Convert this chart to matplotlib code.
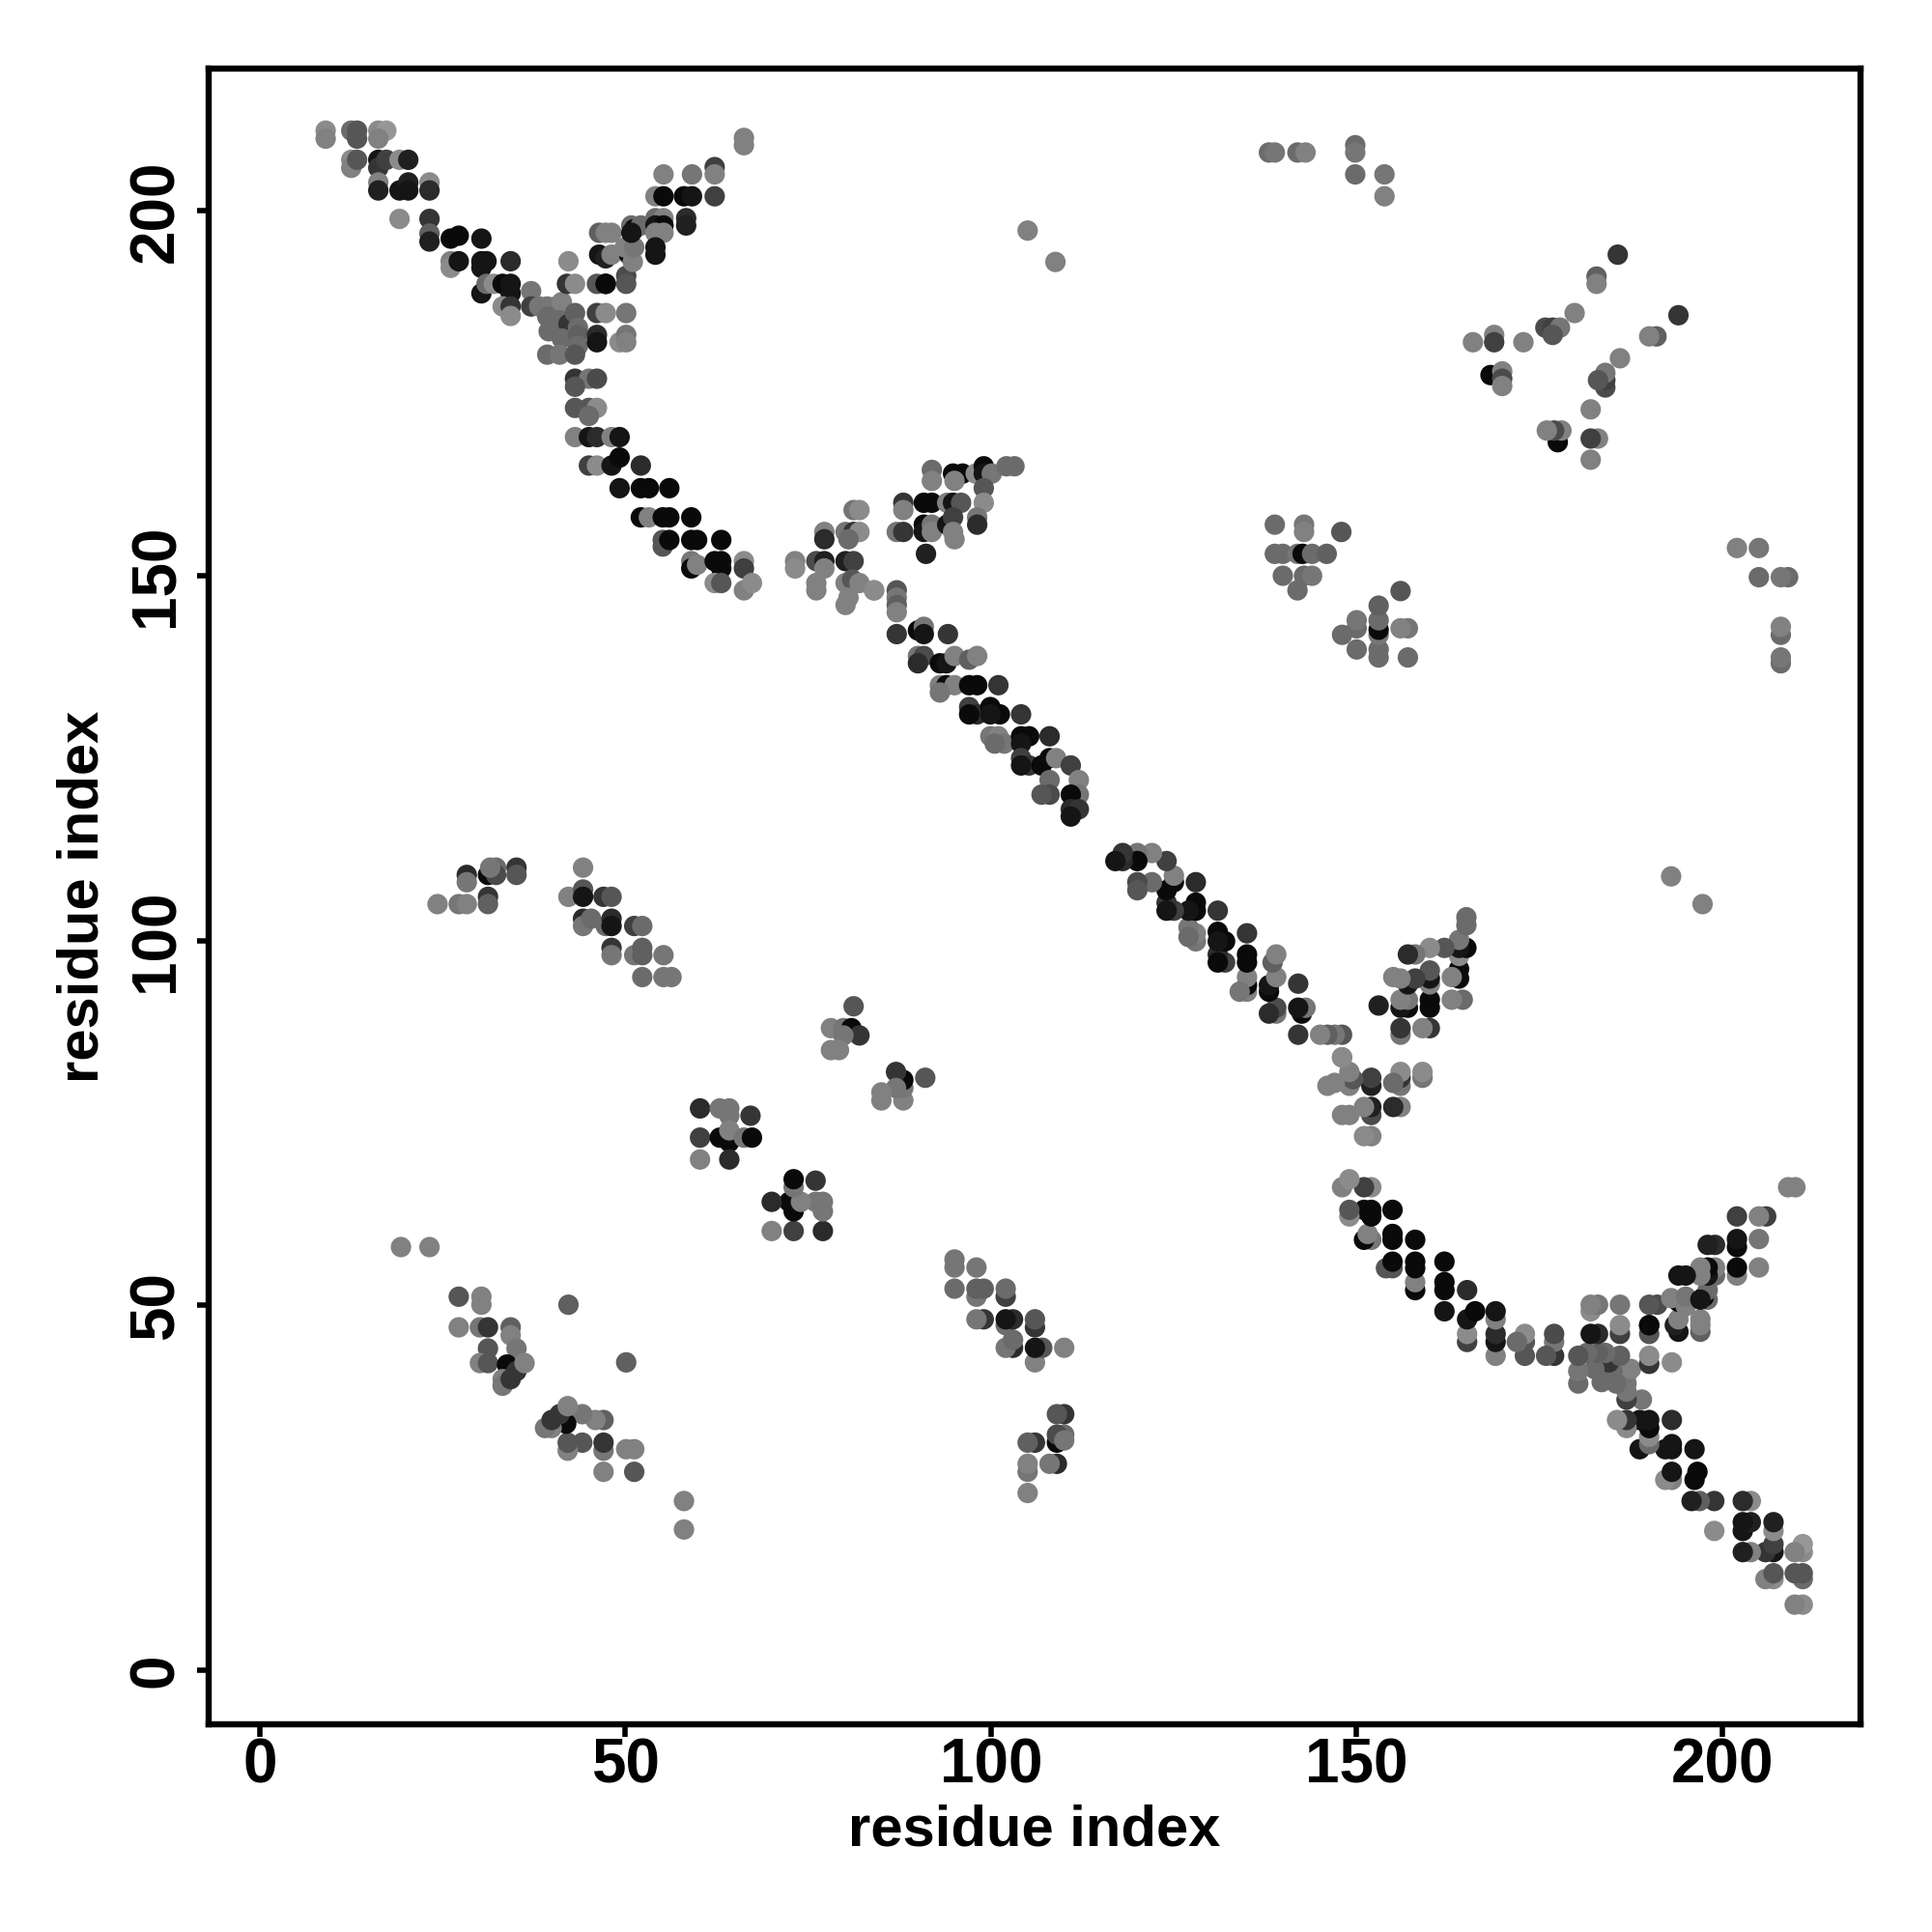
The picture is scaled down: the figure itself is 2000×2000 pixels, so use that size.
import matplotlib
matplotlib.use("Agg")
import matplotlib.pyplot as plt
import numpy as np

# contacts (i < j); the map is symmetric so (j, i) is drawn too
# score = contact strength (dark = strong)

# N-terminal / C-terminal anti-parallel band, upper half
band_i = [9, 9, 12.5, 13.3, 13.3, 16.2, 17.3, 16.2,
          12.5, 12.5, 13.3, 16.2, 16.2, 17.3, 19.1, 20.3,
          16.2, 16.2, 19.1, 20.3, 20.3, 23.2, 23.2,
          19.1, 23.2, 23.2, 23.2,
          26.1, 27.2, 30.3,
          26.1, 26.1, 27.2, 30.3, 31, 30.3, 34.3,
          30.3, 31, 32, 33.2, 34.3, 34.3,
          33.2, 34.3, 34.3, 37.1, 37.1,
          38.2, 39.3, 40.5, 41.3, 42, 43.1, 42.2,
          39.3, 41, 42.2, 43.1, 43.5, 39.5, 41.3, 43.5, 43.5, 39.3, 41, 43.1,
          43.1, 45, 46.1, 43.1,
          43.1, 45, 46.1, 45,
          43.1, 45, 46.1, 48.1, 49.2,
          45, 46.1, 48.1, 49.2, 52.1,
          49.2, 52.1, 53.2, 56,
          52.1, 53.2, 55.1, 56, 59,
          55.1, 55.1, 56, 59, 59.8, 63.1,
          59, 59, 59.8, 62.2, 63.1, 63.1,
          62.2, 63.1, 66.2, 66.2, 66.2, 67.3,
          84]
band_j = [211, 209.9, 211, 211, 209.9, 211, 211, 209.9,
          207, 205.9, 207, 207, 205.9, 207, 207, 207,
          203.9, 202.8, 202.8, 203.9, 202.8, 203.9, 202.8,
          198.9, 198.9, 196.9, 195.8,
          196.2, 196.6, 196.2,
          193.1, 192.2, 193.1, 193.1, 193.1, 192.2, 193.1,
          188.7, 190, 190, 190, 190, 188.7,
          186.9, 186.9, 185.6, 189, 186.9,
          186.9, 186.9, 186.9, 187.5, 190, 190, 193.1,
          185.5, 185, 184.5, 186, 184, 183.5, 182.5, 183, 181.5, 180.3, 180.3, 180.3,
          177, 177, 177, 175.9,
          173, 173, 173, 171.9,
          169, 169, 169, 169, 169,
          165.1, 165.1, 165.1, 166.2, 165.1,
          162, 162, 162, 162,
          158, 158, 158, 158, 158,
          154.9, 154, 154.9, 154.9, 154.9, 154.9,
          152, 151, 151.5, 152, 152, 151,
          149, 149, 152, 151, 148, 149,
          148]
band_s = [0.35, 0.4, 0.5, 0.6, 0.6, 0.35, 0.3, 0.4,
          0.35, 0.4, 0.6, 0.9, 0.75, 0.7, 0.35, 0.85,
          0.4, 0.85, 0.9, 0.85, 0.9, 0.35, 0.8,
          0.35, 0.75, 0.55, 0.85,
          0.95, 0.95, 0.9,
          0.4, 0.35, 0.9, 0.9, 0.9, 0.9, 0.8,
          0.9, 0.5, 0.35, 0.95, 0.9, 0.9,
          0.35, 0.75, 0.35, 0.45, 0.7,
          0.45, 0.45, 0.45, 0.4, 0.75, 0.35, 0.35,
          0.5, 0.5, 0.75, 0.55, 0.5, 0.5, 0.5, 0.55, 0.5, 0.5, 0.45, 0.6,
          0.75, 0.45, 0.65, 0.6,
          0.6, 0.6, 0.35, 0.5,
          0.4, 0.9, 0.8, 0.4, 0.9,
          0.7, 0.35, 0.9, 0.95, 0.8,
          0.9, 0.95, 0.95, 0.95,
          0.95, 0.4, 0.95, 0.95, 0.95,
          0.6, 0.6, 0.95, 0.95, 0.95, 0.95,
          0.45, 0.95, 0.4, 0.95, 0.95, 0.95,
          0.35, 0.6, 0.35, 0.7, 0.4, 0.35,
          0.35]

# branch going up-right from residue ~45
branch_i = [46.1, 47.3, 46.1, 47.3, 50.1, 46.1, 46.1, 49.2, 50.1, 50.1,
            50.1, 50.1, 47.3,
            46.4, 47.3, 48.1, 50.5, 51, 49.9, 51.2,
            46.4, 47.3, 48.1, 50.8, 51.2, 52.1, 50.8,
            54.1, 55.2, 54.1, 55.2, 54.1, 55.2, 54.1, 54.1, 58.3, 58.3,
            54.1, 55.2, 58, 59.1, 62.2,
            55.2, 59.1, 62.2, 62.2, 66.2, 66.2]
branch_j = [190, 190, 186, 186, 186, 183, 182, 182, 183, 182,
            191.1, 190, 190,
            194, 193.5, 194, 194, 193, 195, 195,
            197, 197, 197, 198, 197.5, 198, 197,
            199, 199, 198, 198, 197, 197, 195, 194, 199, 198,
            202, 202, 202, 202, 202,
            205, 205, 206, 205, 210, 209]
branch_s = [0.6, 0.9, 0.7, 0.35, 0.45, 0.8, 0.9, 0.35, 0.45, 0.4,
            0.65, 0.6, 0.95,
            0.9, 0.85, 0.4, 0.95, 0.4, 0.4, 0.45,
            0.55, 0.4, 0.4, 0.5, 0.95, 0.5, 0.9,
            0.5, 0.4, 0.9, 0.95, 0.4, 0.4, 0.9, 0.9, 0.8, 0.85,
            0.4, 0.95, 0.95, 0.9, 0.7,
            0.4, 0.45, 0.7, 0.4, 0.4, 0.4]

# middle band (88-112 against 117-143)
mid_i = [87.1, 90, 90.8, 90.8, 94.1,
         90, 90.8, 90, 93, 93.9, 95, 97, 98.1,
         93, 93.9, 95, 93, 97, 98.1, 101,
         97, 98.1, 97, 99.9, 101.2, 99.9, 104.1,
         99.9, 101, 101.8, 100.5, 104.1, 105.2, 104.1, 108,
         104.1, 105.2, 104.1, 106.9, 108, 108.9, 110.9,
         108, 108, 106.9, 112, 112, 110.9,
         110.9, 112, 110.9]
mid_j = [142, 142.5, 143, 142, 142,
         139, 139, 138, 138, 138, 139, 138.5, 139,
         135, 135, 135, 134, 135, 135, 135,
         132, 131, 131, 132, 131, 131, 131,
         128, 128, 127, 127, 128, 128, 127, 128,
         125, 124, 124, 124, 125, 125, 124,
         122, 120, 120, 122, 120, 120,
         118, 118, 117]
mid_s = [0.75, 0.95, 0.45, 0.9, 0.75,
         0.45, 0.65, 0.8, 0.95, 0.9, 0.4, 0.55, 0.4,
         0.4, 0.95, 0.4, 0.45, 0.95, 0.95, 0.75,
         0.7, 0.8, 0.95, 0.95, 0.95, 0.9, 0.75,
         0.45, 0.4, 0.45, 0.5, 0.95, 0.95, 0.9, 0.8,
         0.7, 0.75, 0.9, 0.95, 0.95, 0.4, 0.7,
         0.5, 0.65, 0.6, 0.4, 0.45, 0.95,
         0.8, 0.75, 0.9]

# off-diagonal clusters
clus_i = [  # 73-88 x 145-159
          81.2, 82, 77.2, 77.2, 80.1, 81.2, 82, 80.5,
          73.2, 73.2, 76.1, 77.2, 77.2, 80.1, 81.2,
          76.1, 76.1, 80.1, 81, 82, 80.5, 80.1, 84,
          87.1, 87.1, 87.1, 87.1,
          # 87-103 x 153-165
          91.9, 91.9, 94.8, 96.1, 95, 97.9, 99, 99, 100.1, 102.1, 103.2,
          99, 99, 98.1, 98.1, 88, 88, 90.8, 91.9, 94, 94.8, 95.9,
          87.1, 88, 90.8, 90.8, 91.9, 91.9, 94, 94.8, 94.8, 95, 91.1,
          # 24-56 x 95-110
          24.3, 27.2, 28.3, 28.3, 28.3, 31.2, 32.3, 32.3, 31.5, 31.2, 31.2,
          35.1, 35.1, 44.2, 42.2, 44.2, 44.2, 47, 48.1,
          44.2, 44.2, 45.3, 47.3, 48.1, 48.1, 51.2, 52.3,
          48.1, 48.1, 51.2, 52.3, 52.3, 55.2, 52.3, 55.2, 56.3,
          # 60-77 x 70-77
          60.2, 62.9, 64.2, 64.2, 67.1, 60.2, 62.9, 64.2, 64.2, 66.2, 67.3,
          60.2, 64.2,
          # 78-82 x 85-91
          81.2, 78.1, 79.8, 80.9, 82, 79.8, 78.1, 79.2,
          # 19-42 x 39-58
          19.3, 23.2, 27.2, 30.3, 30.3, 42.2, 27.2, 30.1, 31.2, 34.3, 34.3,
          31.2, 35.1, 30.1, 31.2, 33.8, 35.1, 36.2, 33.2, 33.2, 34.3,
          # 105-109 x 193-197
          105, 108.8,
          # 138-148 x 148-157
          138.8, 142.8, 142.8, 147.9, 138.8, 139.9, 141.9, 142.6, 143.9, 145.9,
          139.9, 142.8, 143.9, 141.9,
          # 138-154 x 202-209
          138, 138.8, 141.9, 143, 149.8, 149.8, 149.8, 153.8, 153.8,
          # 166-186 x 176-194
          185.7, 182.8, 182.8, 179.8, 175.8, 176.8, 177.8, 176.8, 165.9,
          168.8, 168.8, 172.8, 168.3, 169.9, 169.9, 169.9]
clus_j = [159, 159, 156, 155, 156, 156, 156, 155,
          152, 151, 152, 152, 151, 152, 152,
          149, 148, 149, 149.5, 149, 147, 146, 148,
          148, 147, 146, 145,
          164.5, 163, 164, 164, 163, 164, 165, 164, 164, 165, 165,
          162, 160, 158, 157, 160, 159, 160, 160, 160, 160, 160,
          156, 156, 157, 156, 157, 156, 157, 158, 156, 155, 153,
          105, 105, 105, 109, 108, 109, 110, 109, 110, 106, 105,
          110, 109, 110, 106, 107, 106, 106, 106,
          103, 102, 103, 102, 103, 102, 102, 102,
          99, 98, 98, 99, 98, 98, 95, 95, 95,
          77, 77, 77, 76, 76, 73, 73, 72.4, 74, 73, 73,
          70, 70,
          91, 88, 88, 88, 87, 87, 85, 85,
          58, 58, 51.2, 51.2, 50.1, 50.1, 47, 47, 47, 47, 45.9,
          44.1, 44.1, 42.1, 42.1, 41.9, 41, 42.1, 39.9, 39, 39.9,
          197.3, 193,
          157, 157, 156, 156, 153, 153, 153, 153, 153, 153,
          150, 150, 150, 148,
          208, 208, 208, 208, 209, 208, 205, 205, 202,
          194, 191, 190, 186, 184, 184, 184, 183, 182,
          183, 182, 182, 177.5, 178, 177, 176]
clus_s = [0.45, 0.35, 0.4, 0.8, 0.45, 0.75, 0.35, 0.5,
          0.4, 0.35, 0.65, 0.85, 0.4, 0.85, 0.7,
          0.4, 0.4, 0.4, 0.6, 0.4, 0.4, 0.4, 0.35,
          0.6, 0.45, 0.55, 0.4,
          0.5, 0.4, 0.95, 0.95, 0.4, 0.35, 0.95, 0.9, 0.45, 0.5, 0.5,
          0.6, 0.35, 0.45, 0.8, 0.75, 0.4, 0.95, 0.95, 0.4, 0.9, 0.6,
          0.45, 0.75, 0.95, 0.9, 0.45, 0.4, 0.9, 0.7, 0.4, 0.4, 0.85,
          0.4, 0.45, 0.4, 0.8, 0.45, 0.95, 0.5, 0.65, 0.45, 0.75, 0.55,
          0.75, 0.6, 0.4, 0.4, 0.6, 0.9, 0.75, 0.6,
          0.8, 0.45, 0.5, 0.5, 0.8, 0.9, 0.7, 0.5,
          0.75, 0.45, 0.45, 0.55, 0.55, 0.45, 0.5, 0.45, 0.45,
          0.8, 0.45, 0.45, 0.45, 0.75, 0.7, 0.95, 0.95, 0.4, 0.45, 0.95,
          0.4, 0.8,
          0.6, 0.4, 0.45, 0.95, 0.75, 0.45, 0.4, 0.4,
          0.4, 0.4, 0.6, 0.4, 0.4, 0.55, 0.4, 0.45, 0.75, 0.55, 0.4,
          0.6, 0.45, 0.4, 0.6, 0.95, 0.75, 0.4, 0.4, 0.45, 0.75,
          0.4, 0.4,
          0.5, 0.45, 0.4, 0.6, 0.5, 0.5, 0.45, 0.95, 0.5, 0.55,
          0.5, 0.5, 0.45, 0.5,
          0.5, 0.45, 0.5, 0.4, 0.5, 0.45, 0.5, 0.45, 0.4,
          0.75, 0.55, 0.4, 0.4, 0.65, 0.7, 0.45, 0.6, 0.4,
          0.4, 0.7, 0.4, 0.95, 0.4, 0.65, 0.4]

res_i = np.array(band_i + branch_i + mid_i + clus_i)
res_j = np.array(band_j + branch_j + mid_j + clus_j)
score = np.array(band_s + branch_s + mid_s + clus_s)

plt.rcParams['font.family'] = ['Liberation Sans', 'DejaVu Sans']
plt.rcParams['font.weight'] = 'bold'

fig = plt.figure(figsize=(10, 10), dpi=200)
ax = fig.add_axes([0.108, 0.1075, 0.855, 0.857])

x = np.concatenate([res_i, res_j])
y = np.concatenate([res_j, res_i])
c = np.concatenate([score, score])
ax.scatter(x, y, c=c, cmap='gray_r', vmin=-0.19, vmax=1.0, s=58,
           linewidths=0)

ax.set_xlim(-7.0, 218.9)
ax.set_ylim(-7.4, 219.5)
ticks = [0, 50, 100, 150, 200]
ax.set_xticks(ticks)
ax.set_yticks(ticks)
ax.tick_params(direction='out', length=4.5, width=2, pad=0.5, labelsize=23)
ax.tick_params(axis='y', pad=4)
for lab in ax.get_xticklabels() + ax.get_yticklabels():
    lab.set_fontweight('bold')
for lab in ax.get_yticklabels():
    lab.set_rotation(90)
    lab.set_va('center')
for sp in ax.spines.values():
    sp.set_linewidth(2.3)

ax.set_xlabel('residue index', fontsize=21.5, fontweight='bold')
ax.set_ylabel('residue index', fontsize=21.5, fontweight='bold')
ax.xaxis.set_label_coords(0.5, -0.048)
ax.yaxis.set_label_coords(-0.06, 0.5)

fig.savefig('out.png', dpi=200, facecolor='white')
